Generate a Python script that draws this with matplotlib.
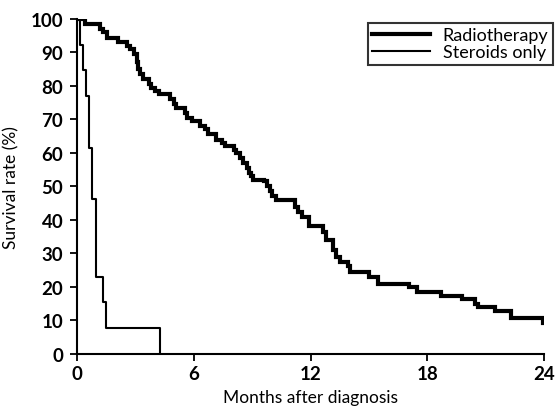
import matplotlib.pyplot as plt

# radiotherapy: time of each drop (months) and survival after it (%)
radio_t = [0, 0.4, 1.15, 1.35, 1.55, 2.1, 2.55, 2.72, 2.93, 3.07, 3.15, 3.24, 3.41,
           3.7, 3.8, 4.0, 4.2, 4.8, 5.0, 5.1, 5.55, 5.64, 5.9, 6.3, 6.55, 6.75,
           7.15, 7.45, 7.6, 8.05, 8.15, 8.35, 8.55, 8.72, 8.85, 8.95, 9.05, 9.6,
           9.75, 9.9, 10.0, 10.2, 11.2, 11.37, 11.55, 11.9, 12.65, 12.8, 13.15,
           13.3, 13.5, 13.95, 14.05, 15.0, 15.45, 17.05, 17.5, 18.7, 19.8, 20.45,
           20.6, 21.5, 22.3, 23.95, 24.0]
radio_s = [100, 98.5, 97.0, 96.0, 94.3, 93.0, 92.0, 91.0, 89.5, 87.0, 85.0, 83.5, 82.0,
           80.5, 79.5, 78.5, 77.5, 76.0, 74.5, 73.5, 72.0, 70.5, 69.5, 68.0, 67.0, 65.5,
           64.0, 63.0, 62.0, 61.0, 60.0, 58.5, 57.0, 55.5, 54.0, 53.0, 52.0, 51.5,
           50.0, 48.5, 47.0, 46.0, 44.0, 42.3, 40.8, 38.3, 36.3, 34.0, 31.0,
           29.0, 27.4, 26.4, 24.4, 22.9, 20.9, 19.9, 18.5, 17.4, 16.4, 15.0,
           13.9, 12.9, 10.8, 9.3, 9.3]

# steroids only
ster_t = [0, 0.15, 0.3, 0.45, 0.6, 0.75, 0.96, 1.32, 1.47, 4.25]
ster_s = [100, 92.3, 84.6, 76.9, 61.5, 46.2, 23.1, 15.4, 7.7, 0]

xticks = [0, 6, 12, 18, 24]
yticks = list(range(0, 101, 10))

plt.rcParams['font.family'] = ['Lato', 'DejaVu Sans']

fig = plt.figure(figsize=(5.55, 4.14), dpi=100)
ax = fig.add_axes([0.139, 0.1425, 0.841, 0.8095])

ax.step(radio_t, radio_s, where='post', color='black', lw=3.0, label='Radiotherapy',
        solid_joinstyle='miter')
ax.step(ster_t, ster_s, where='post', color='black', lw=1.5, label='Steroids only')

ax.set_xlim(0, 24)
ax.set_ylim(0, 100)
ax.set_xticks(xticks)
ax.set_yticks(yticks)
for s in ['top', 'right']:
    ax.spines[s].set_visible(False)
for s in ['left', 'bottom']:
    ax.spines[s].set_linewidth(1.5)
ax.tick_params(direction='out', length=5, width=1.3, labelsize=13.5)
ax.tick_params(axis='y', pad=5)
ax.tick_params(axis='x', pad=3)
for lab in ax.get_xticklabels() + ax.get_yticklabels():
    lab.set_fontweight('bold')

ax.set_xlabel('Months after diagnosis', fontsize=12.5, labelpad=5)
ax.set_ylabel('Survival rate (%)', fontsize=12.5, labelpad=8)

leg = ax.legend(loc='upper right', bbox_to_anchor=(1.019, 0.988), fontsize=13,
                frameon=True, fancybox=False, handlelength=3.2, borderpad=0.25,
                labelspacing=0.05, handletextpad=0.7, borderaxespad=0)
leg.get_frame().set_edgecolor('black')
leg.get_frame().set_linewidth(1.5)

fig.savefig('out.png', dpi=100)
